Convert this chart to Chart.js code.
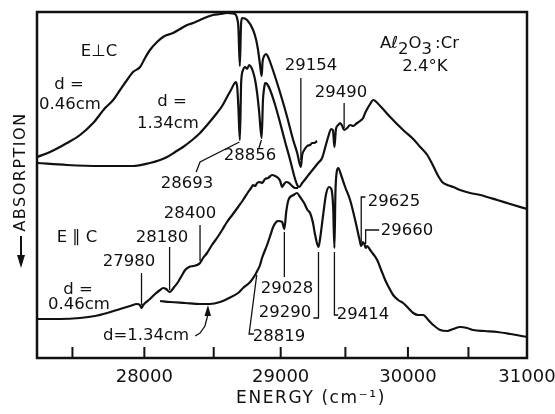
<!DOCTYPE html>
<html>
<head>
<meta charset="utf-8">
<title>Al2O3:Cr absorption, 2.4 K</title>
<script src="https://cdn.jsdelivr.net/npm/chart.js@4.4.1/dist/chart.umd.min.js"></script>
<style>
  html, body { margin: 0; padding: 0; background: #fff; }
  #box { position: relative; width: 555px; height: 414px; }
</style>
</head>
<body>
<div id="box"><canvas id="spectra"></canvas></div>
<script>
// Traces are [energy (cm-1), absorption (arb. units, increasing downward)]

// E perpendicular to c, d = 0.46 cm
const perpThin = [
  [27261, 14.5], [27348, 14.0], [27463, 13.1], [27552, 12.3], [27642, 11.1],
  [27725, 9.6], [27781, 8.8], [27829, 7.8], [27878, 6.8], [27920, 6.0],
  [27970, 5.5], [28005, 4.6], [28040, 3.8], [28090, 3.0], [28133, 2.5],
  [28162, 2.3], [28205, 2.1], [28256, 1.7], [28306, 1.3], [28350, 1.1],
  [28400, 0.8], [28451, 0.5], [28494, 0.3], [28547, 0.2], [28598, 0.1],
  [28642, 0.15], [28664, 0.3], [28674, 0.7], [28682, 1.5], [28693, 5.4],
  [28702, 1.2], [28710, 0.6], [28747, 0.8], [28792, 1.8], [28815, 2.8],
  [28829, 3.8], [28844, 5.3], [28856, 6.4], [28863, 5.0], [28875, 4.4],
  [28890, 4.2], [28905, 4.5], [28920, 5.0], [28973, 7.1], [29019, 9.1],
  [29049, 10.5], [29095, 12.8], [29126, 14.1], [29154, 15.5], [29164, 14.3],
  [29180, 13.8], [29203, 13.4], [29225, 13.3], [29241, 13.1], [29256, 13.1],
  [29279, 12.9]
];

// E perpendicular to c, d = 1.34 cm
const perpThick = [
  [27261, 15.1], [27463, 15.3], [27690, 15.4], [27920, 15.4], [28040, 15.1],
  [28112, 14.8], [28162, 14.5], [28220, 14.0], [28277, 13.5], [28343, 12.8],
  [28400, 12.1], [28458, 11.2], [28524, 10.1], [28562, 9.4], [28598, 8.5],
  [28627, 7.8], [28650, 7.2], [28664, 7.0], [28674, 7.6], [28682, 9.5],
  [28693, 12.8], [28703, 7.0], [28717, 5.8], [28732, 5.5], [28747, 5.7],
  [28762, 5.3], [28777, 5.5], [28792, 6.0], [28807, 6.8], [28822, 8.1],
  [28836, 9.8], [28856, 12.6], [28866, 8.8], [28875, 7.6], [28882, 7.1],
  [28897, 7.2], [28920, 7.8], [28958, 9.3], [28996, 11.1], [29034, 13.0],
  [29072, 14.8], [29103, 16.4], [29126, 17.3], [29141, 17.5], [29164, 17.1],
  [29195, 16.6], [29225, 16.1], [29256, 15.6], [29287, 15.1], [29318, 14.6],
  [29341, 13.6], [29365, 12.5], [29388, 11.7], [29402, 11.8], [29414, 13.5],
  [29426, 11.7], [29444, 11.3], [29459, 11.1], [29475, 11.4], [29490, 11.8],
  [29514, 11.6], [29537, 11.3], [29561, 11.4], [29592, 11.1], [29616, 10.9],
  [29640, 10.6], [29656, 10.1], [29672, 9.7], [29696, 9.2], [29720, 8.8],
  [29776, 9.4], [29856, 10.5], [29961, 11.8], [30043, 12.7], [30100, 13.5],
  [30158, 14.3], [30207, 15.4], [30248, 16.4], [30281, 17.0], [30323, 17.3],
  [30373, 17.5], [30430, 17.8], [30514, 18.1], [30599, 18.3], [30744, 18.8],
  [30855, 19.2], [31000, 19.7]
];

// E parallel to c, d = 0.46 cm
const paraThin = [
  [27261, 30.7], [27415, 30.7], [27552, 30.6], [27656, 30.4], [27739, 30.1],
  [27829, 29.7], [27899, 29.4], [27948, 29.2], [27968, 29.3], [27980, 29.6],
  [27992, 29.3], [28005, 29.1], [28040, 28.7], [28076, 28.2], [28112, 27.8],
  [28133, 27.6], [28155, 27.7], [28180, 28.0], [28213, 27.5], [28241, 27.0],
  [28270, 26.3], [28292, 25.8], [28321, 25.5], [28350, 25.4], [28379, 25.3],
  [28400, 25.1], [28422, 24.6], [28451, 24.1], [28487, 23.3], [28524, 22.6],
  [28562, 21.8], [28598, 21.0], [28642, 20.2], [28680, 19.5], [28717, 18.8],
  [28755, 18.0], [28777, 17.6], [28792, 17.3], [28807, 17.4], [28822, 17.1],
  [28844, 17.0], [28859, 17.1], [28882, 16.7], [28905, 16.6], [28935, 16.3],
  [28958, 16.4], [28981, 16.6], [28996, 16.9], [29011, 17.5], [29026, 17.2],
  [29042, 17.0], [29064, 17.1], [29087, 17.4], [29110, 17.6], [29133, 17.6]
];

// E parallel to c, d = 1.34 cm
const paraThick = [
  [28112, 28.9], [28183, 29.0], [28292, 29.1], [28400, 29.2], [28473, 29.2],
  [28547, 29.0], [28598, 28.7], [28680, 28.1], [28717, 27.6], [28770, 27.0],
  [28807, 26.3], [28819, 26.0], [28844, 25.3], [28859, 24.6], [28897, 23.3],
  [28920, 22.4], [28943, 21.5], [28966, 21.0], [28981, 20.9], [29011, 21.0],
  [29028, 21.7], [29042, 20.0], [29059, 18.8], [29098, 18.3], [29124, 18.1],
  [29148, 18.5], [29179, 19.1], [29205, 19.8], [29225, 20.1], [29246, 21.0],
  [29264, 22.3], [29290, 23.5], [29302, 22.7], [29326, 20.3], [29349, 18.2],
  [29372, 17.5], [29390, 17.7], [29404, 19.5], [29414, 23.6], [29422, 18.0],
  [29432, 16.0], [29444, 15.6], [29466, 16.3], [29498, 17.5], [29537, 18.8],
  [29584, 21.2], [29612, 22.8], [29625, 23.4], [29638, 23.0], [29650, 23.2],
  [29660, 23.6], [29672, 23.4], [29696, 23.8], [29720, 24.2], [29752, 24.8],
  [29784, 25.8], [29816, 26.8], [29848, 27.6], [29880, 28.3], [29921, 28.8],
  [29961, 29.1], [30002, 29.6], [30043, 30.1], [30084, 30.3], [30125, 30.3],
  [30166, 30.8], [30207, 31.3], [30265, 31.8], [30323, 31.9], [30373, 31.7],
  [30430, 31.5], [30489, 31.6], [30540, 31.8], [30640, 31.9], [30744, 32.0],
  [30855, 32.2], [31000, 32.5]
];

const energyRange = [27260, 31000];
const tickEnergies = [28000, 29000, 30000, 31000];
const markEnergies = [27500, 28000, 28500, 29000, 29500, 30000, 30500];
const absRange = [0, 34.6];

// Line labels: text spot in px, leader drawn in [energy, absorption]
const featureLabels = [
  { text: '28693', at: [187, 184], path: [[28372, 16.0], [28400, 15.0], [28690, 13.0]] },
  { text: '28856', at: [250, 156], path: [[28836, 13.6], [28854, 12.8]] },
  { text: '29154', at: [311, 66], path: [[29154, 6.6], [29154, 14.8]] },
  { text: '29490', at: [341, 93], path: [[29490, 9.1], [29490, 11.6]] },
  { text: '28400', at: [190, 214], path: [[28400, 21.3], [28400, 24.9]] },
  { text: '28180', at: [162, 238], path: [[28180, 23.5], [28180, 27.8]] },
  { text: '27980', at: [129, 262], path: [[27980, 26.1], [27980, 29.3]] },
  { text: '29028', at: [287, 289], path: [[29028, 22.0], [29028, 26.5]] },
  { text: '29290', at: [285, 313], path: [[29290, 24.0], [29290, 30.6], [29250, 30.6]] },
  { text: '29414', at: [363, 315], path: [[29414, 24.0], [29414, 30.3], [29444, 30.3]] },
  { text: '28819', at: [279, 337], path: [[28819, 26.3], [28762, 32.2], [28799, 32.2]] },
  { text: '29625', at: [394, 202], path: [[29625, 23.0], [29625, 18.5], [29658, 18.5]] },
  { text: '29660', at: [407, 231], path: [[29660, 23.2], [29660, 21.8], [29768, 21.8]] }
];

const captions = [
  ['E\u22A5C', 99, 52], ['d =', 69, 85], ['0.46cm', 70, 105],
  ['d =', 172, 102], ['1.34cm', 168, 124],
  ['E \u2225 C', 77, 238], ['d =', 78, 290], ['0.46cm', 79, 305],
  ['d=1.34cm', 146, 336], ['2.4\u00B0K', 425, 67]
];

// curved pointer from "d=1.34cm" up to the thick E||c trace
const pointerPath = [[28365, 32.4], [28400, 32.1], [28436, 31.4], [28451, 30.6], [28456, 30.3]];
const pointerTip = [28458, 29.3];

const FONT = '"DejaVu Sans", sans-serif';
const INK = '#111';

// the energy axis is linear in wavelength, so the scale runs in nm
const toNm = e => 1e7 / e;
const toPoints = trace => trace.map(([e, a]) => ({ x: toNm(e), y: a }));

const overlay = {
  id: 'overlay',
  afterDraw(chart) {
    const { ctx, chartArea: area, scales } = chart;
    const px = e => scales.x.getPixelForValue(toNm(e));
    const py = v => scales.y.getPixelForValue(v);
    const spaced = s => { if ('letterSpacing' in ctx) ctx.letterSpacing = s; };

    ctx.save();
    ctx.strokeStyle = INK;
    ctx.fillStyle = INK;

    // frame
    ctx.lineWidth = 2.5;
    ctx.strokeRect(area.left, area.top, area.right - area.left, area.bottom - area.top);

    // tick marks point into the plot
    ctx.lineWidth = 2;
    markEnergies.forEach(e => {
      const x = px(e);
      ctx.beginPath();
      ctx.moveTo(x, area.bottom);
      ctx.lineTo(x, area.bottom - 11);
      ctx.stroke();
    });

    // leaders
    ctx.lineWidth = 1.3;
    featureLabels.forEach(f => {
      ctx.beginPath();
      f.path.forEach(([e, v], i) => i ? ctx.lineTo(px(e), py(v)) : ctx.moveTo(px(e), py(v)));
      ctx.stroke();
    });

    // pointer with arrow head
    ctx.beginPath();
    pointerPath.forEach(([e, v], i) => i ? ctx.lineTo(px(e), py(v)) : ctx.moveTo(px(e), py(v)));
    ctx.stroke();
    const tx = px(pointerTip[0]), ty = py(pointerTip[1]);
    ctx.beginPath();
    ctx.moveTo(tx, ty);
    ctx.lineTo(tx - 3.5, ty + 11);
    ctx.lineTo(tx + 3, ty + 11);
    ctx.closePath();
    ctx.fill();

    // text
    ctx.textAlign = 'center';
    ctx.textBaseline = 'middle';
    ctx.font = '16.5px ' + FONT;
    featureLabels.forEach(f => ctx.fillText(f.text, f.at[0], f.at[1]));
    captions.forEach(([t, x, y]) => ctx.fillText(t, x, y));

    // Al2O3:Cr with lowered digits
    ctx.textAlign = 'left';
    ctx.textBaseline = 'alphabetic';
    let x = 380;
    [['A\u2113', 0, 0], ['2', 6, 0], ['O', 0, 0], ['3', 6, 0], [':Cr', 0, 3]].forEach(([t, dy, gap]) => {
      x += gap;
      ctx.fillText(t, x, 48 + dy);
      x += ctx.measureText(t).width;
    });

    // axis title
    ctx.textAlign = 'center';
    ctx.textBaseline = 'middle';
    ctx.font = '17px ' + FONT;
    spaced('1.6px');
    ctx.fillText('ENERGY (cm\u207B\u00B9)', 311, 399);

    // vertical axis label with downward arrow
    ctx.save();
    ctx.translate(21, 172);
    ctx.rotate(-Math.PI / 2);
    ctx.font = '16px ' + FONT;
    spaced('1.5px');
    ctx.fillText('ABSORPTION', 0, 0);
    ctx.restore();
    spaced('0px');
    ctx.lineWidth = 2;
    ctx.beginPath();
    ctx.moveTo(21, 236);
    ctx.lineTo(21, 259);
    ctx.stroke();
    ctx.beginPath();
    ctx.moveTo(21, 268);
    ctx.lineTo(17, 255);
    ctx.lineTo(25, 255);
    ctx.closePath();
    ctx.fill();

    ctx.restore();
  }
};

const traceStyle = {
  borderColor: INK,
  borderWidth: 2.2,
  pointRadius: 0,
  fill: false,
  cubicInterpolationMode: 'monotone'
};

new Chart(document.getElementById('spectra'), {
  type: 'line',
  data: {
    datasets: [
      { label: 'E\u22A5c, d = 0.46 cm', data: toPoints(perpThin), ...traceStyle },
      { label: 'E\u22A5c, d = 1.34 cm', data: toPoints(perpThick), ...traceStyle },
      { label: 'E\u2225c, d = 0.46 cm', data: toPoints(paraThin), ...traceStyle },
      { label: 'E\u2225c, d = 1.34 cm', data: toPoints(paraThick), ...traceStyle }
    ]
  },
  options: {
    responsive: true,
    maintainAspectRatio: false,
    animation: false,
    devicePixelRatio: 1,
    layout: { padding: { left: 37, right: 28, top: 12, bottom: 0 } },
    plugins: { legend: { display: false }, tooltip: { enabled: false } },
    scales: {
      x: {
        type: 'linear',
        reverse: true,
        min: toNm(energyRange[1]),
        max: toNm(energyRange[0]),
        afterBuildTicks: s => { s.ticks = tickEnergies.map(e => ({ value: toNm(e) })); },
        afterFit: s => { s.height = 56; s.paddingLeft = 0; s.paddingRight = 0; },
        grid: { display: false, drawTicks: false },
        border: { display: false },
        ticks: {
          autoSkip: false,
          maxRotation: 0,
          padding: 9,
          color: INK,
          font: { family: FONT, size: 18 },
          callback: v => String(Math.round(1e7 / v))
        },
        title: { display: false }
      },
      y: { display: false, reverse: true, min: absRange[0], max: absRange[1] }
    }
  },
  plugins: [overlay]
});
</script>
</body>
</html>
